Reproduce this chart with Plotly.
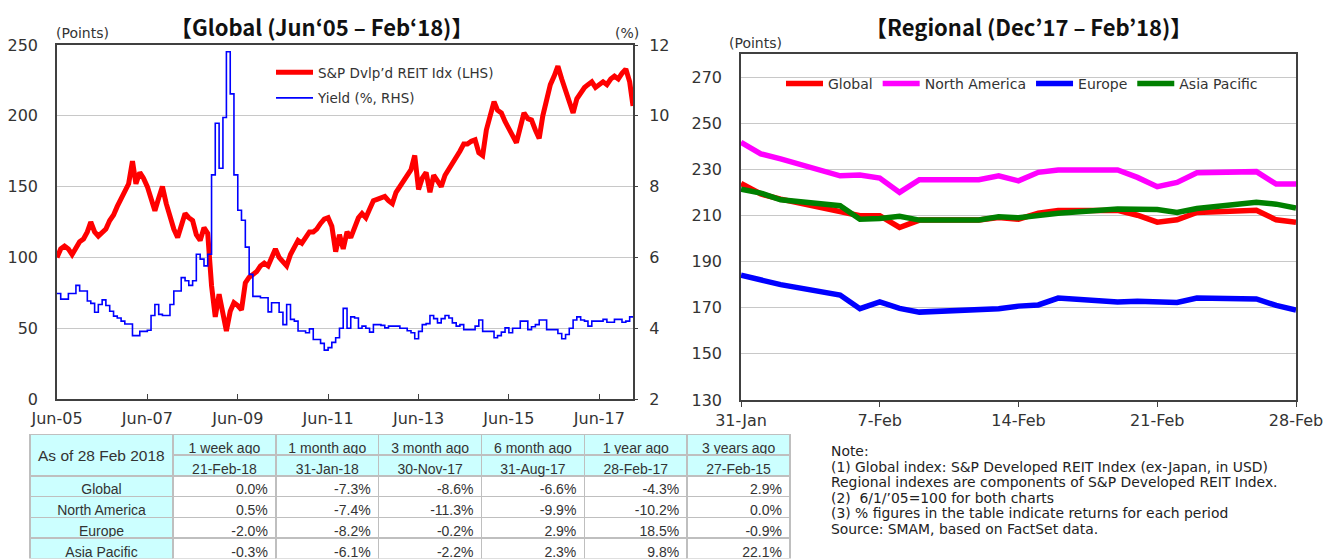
import plotly.graph_objects as go
import pandas as pd

# Page body has an 8px margin, so the figure is drawn 8px in from the window edge.
OFF = 8
W, H = 1337 - OFF, 559 - OFF


def fx(px):
    return (px - OFF) / W


def fy(py):
    return 1 - (py - OFF) / H


# ---------------- Left chart data (monthly, month-start, Jun-05 .. Feb-18) ----------------
reit_values = [
    100, 106, 108, 106, 102, 106, 111, 113, 118, 125, 118, 115,
    117, 120, 126, 130, 136, 142, 148, 152, 168, 152, 160, 156,
    150, 142, 133, 142, 150, 138, 128, 120, 114, 122, 131, 128,
    126, 116, 112, 121, 117, 80, 58, 74, 62, 48, 62, 68,
    66, 63, 82, 86, 88, 90, 94, 96, 94, 100, 106, 100,
    97, 94, 102, 107, 112, 110, 114, 118, 118, 120, 124, 127,
    128, 122, 104, 116, 106, 118, 114, 122, 128, 131, 128, 134,
    140, 141, 142, 143, 140, 138, 146, 150, 154, 158, 162, 172,
    148, 156, 160, 146, 158, 154, 150, 158, 162, 166, 170, 175,
    180, 180, 182, 183, 174, 172, 190, 200, 210, 204, 202, 196,
    190, 186, 181, 192, 202, 198, 197, 190, 184, 200, 210, 222,
    228, 235, 226, 218, 210, 202, 212, 216, 220, 222, 224, 220,
    222, 224, 222, 226, 228, 226, 230, 233, 224,
]
reit_end_date = "2018-02-28"
reit_end_value = 207

yield_values = [
    4.98, 4.82, 4.82, 4.98, 4.98, 5.21, 5.05, 5.05, 4.77, 4.70, 4.45, 4.67,
    4.80, 4.64, 4.48, 4.34, 4.29, 4.20, 4.12, 4.12, 3.79, 3.79, 3.91, 3.91,
    3.94, 4.36, 4.67, 4.39, 4.36, 4.36, 4.67, 5.05, 5.05, 5.43, 5.34, 5.21,
    5.34, 6.09, 5.95, 5.76, 6.09, 8.33, 9.79, 8.52, 9.95, 11.81, 10.62, 8.33,
    7.33, 7.05, 6.29, 5.52, 4.90, 4.90, 4.86, 4.86, 4.46, 4.72, 4.72, 4.45,
    4.10, 4.67, 4.25, 4.20, 3.92, 3.92, 3.87, 3.98, 3.68, 3.68, 3.57, 3.38,
    3.45, 3.60, 3.73, 4.00, 4.56, 4.00, 4.32, 4.29, 4.00, 4.06, 4.00, 3.89,
    4.10, 4.10, 4.08, 4.01, 4.06, 4.06, 4.06, 4.00, 4.00, 3.93, 3.87, 3.70,
    3.91, 4.10, 4.13, 4.36, 4.27, 4.15, 4.27, 4.36, 4.29, 4.15, 4.06, 4.10,
    3.96, 3.96, 3.96, 4.06, 4.23, 3.91, 3.91, 3.91, 3.73, 3.79, 3.89, 4.01,
    3.87, 4.00, 4.00, 4.20, 4.20, 3.96, 4.04, 4.10, 4.23, 4.23, 3.96, 3.96,
    3.96, 3.85, 3.70, 3.82, 4.00, 4.23, 4.32, 4.23, 4.20, 4.06, 4.20, 4.20,
    4.20, 4.25, 4.17, 4.17, 4.25, 4.25, 4.17, 4.20, 4.32,
]

left_tick_dates = ["2005-06-01", "2007-06-01", "2009-06-01", "2011-06-01",
                   "2013-06-01", "2015-06-01", "2017-06-01"]

# ---------------- Right chart data ----------------
reg_dates = ["2018-01-31", "2018-02-01", "2018-02-02", "2018-02-05", "2018-02-06",
             "2018-02-07", "2018-02-08", "2018-02-09", "2018-02-12", "2018-02-13",
             "2018-02-14", "2018-02-15", "2018-02-16", "2018-02-19", "2018-02-20",
             "2018-02-21", "2018-02-22", "2018-02-23", "2018-02-26", "2018-02-27",
             "2018-02-28"]
global_vals = [223.9, 219.3, 217.1, 211.6, 209.9, 209.9, 204.8, 208.0, 208.0, 209.1,
               208.4, 211.0, 212.2, 212.2, 210.1, 207.1, 208.1, 211.3, 212.3, 208.1, 207.1]
na_vals = [241.7, 236.7, 234.5, 227.2, 227.5, 226.2, 220.0, 225.5, 225.5, 227.2,
           225.0, 228.7, 229.7, 229.7, 226.5, 222.5, 224.3, 228.5, 229.0, 223.6, 223.6]
europe_vals = [184.1, 182.3, 180.0, 175.5, 169.6, 172.5, 169.7, 168.1, 169.6, 169.6,
               170.7, 171.2, 174.2, 172.5, 172.8, 172.3, 172.3, 174.2, 173.8, 171.0, 169.0]
ap_vals = [221.4, 219.7, 216.8, 214.2, 208.4, 208.7, 209.6, 208.0, 208.0, 209.4,
           209.0, 210.1, 211.0, 212.8, 212.9, 212.6, 211.3, 213.0, 215.7, 214.9, 213.2]
right_tick_dates = ["2018-01-31", "2018-02-07", "2018-02-14", "2018-02-21", "2018-02-28"]

# ---------------- Table data ----------------
periods = ["1 week ago", "1 month ago", "3 month ago", "6 month ago", "1 year ago", "3 years ago"]
base_dates = ["21-Feb-18", "31-Jan-18", "30-Nov-17", "31-Aug-17", "28-Feb-17", "27-Feb-15"]
regions = ["Global", "North America", "Europe", "Asia Pacific"]
ret_global = [0.0, -7.3, -8.6, -6.6, -4.3, 2.9]
ret_na = [0.5, -7.4, -11.3, -9.9, -10.2, 0.0]
ret_eu = [-2.0, -8.2, -0.2, 2.9, 18.5, -0.9]
ret_ap = [-0.3, -6.1, -2.2, 2.3, 9.8, 22.1]

note_lines = [
    "Note:",
    "(1) Global index: S&P Developed REIT Index (ex-Japan, in USD)",
    "Regional indexes are components of S&P Developed REIT Index.",
    "(2)  6/1/’05=100 for both charts",
    "(3) % figures in the table indicate returns for each period",
    "Source: SMAM, based on FactSet data.",
]

# ---------------- Styling ----------------
AX = "#404040"
GRID = "#C8C8C8"
TXT = "#333333"
CYAN = "#CCFFFF"
TBL_LINE = "#BFBFBF"
FONT = "DejaVu Sans"
TFONT = "Liberation Sans"
tickfont = dict(family=FONT, size=16, color=TXT)

reit_dates = list(pd.date_range("2005-06-01", periods=len(reit_values), freq="MS").strftime("%Y-%m-%d"))
reit_x = reit_dates + [reit_end_date]
reit_y = reit_values + [reit_end_value]
yield_x = list(pd.date_range("2005-06-01", periods=len(yield_values), freq="MS").strftime("%Y-%m-%d")) + [reit_end_date]
yield_y = yield_values + [yield_values[-1]]

fig = go.Figure()

fig.add_trace(go.Scatter(
    x=reit_x, y=reit_y, mode="lines", name="S&P Dvlp’d REIT Idx (LHS)",
    line=dict(color="#FF0000", width=5), xaxis="x", yaxis="y",
    legend="legend", legendgroup="a"))
fig.add_trace(go.Scatter(
    x=yield_x, y=yield_y, mode="lines", name="Yield (%, RHS)",
    line=dict(color="#0000FF", width=1.6, shape="hv"), xaxis="x", yaxis="y2",
    legend="legend", legendgroup="b"))

for nm, vals, col in [("Global", global_vals, "#FF0000"),
                      ("North America", na_vals, "#FF00FF"),
                      ("Europe", europe_vals, "#0000FF"),
                      ("Asia Pacific", ap_vals, "#008000")]:
    fig.add_trace(go.Scatter(
        x=reg_dates, y=vals, mode="lines", name=nm,
        line=dict(color=col, width=5.5), xaxis="x2", yaxis="y3", legend="legend2"))

# ---------------- Tables ----------------
row_h = 20.7
tbl_top = fy(434.5)
cellfont = dict(family=TFONT, size=14, color=TXT)

fig.add_trace(go.Table(
    domain=dict(x=[fx(30), fx(173)], y=[0, tbl_top]),
    columnwidth=[1],
    header=dict(values=[""], height=2 * row_h, fill_color=CYAN,
                line=dict(color=TBL_LINE, width=1.5), font=cellfont),
    cells=dict(values=[regions], height=row_h, fill_color=CYAN, align="center",
               line=dict(color=TBL_LINE, width=1.5), font=cellfont),
))

header_vals = [[periods[i], base_dates[i]] for i in range(len(periods))]
cols = [[f"{r[i]:.1f}%" for r in (ret_global, ret_na, ret_eu, ret_ap)] for i in range(len(periods))]

fig.add_trace(go.Table(
    domain=dict(x=[fx(173), fx(790)], y=[0, tbl_top]),
    columnwidth=[1] * len(periods),
    header=dict(values=header_vals, height=row_h, fill_color=CYAN, align="center",
                line=dict(color=TBL_LINE, width=1.5), font=cellfont),
    cells=dict(values=cols, height=row_h, fill_color="white", align="right",
               line=dict(color=TBL_LINE, width=1.5), font=cellfont),
))

# ---------------- Layout ----------------
fig.update_layout(
    width=W, height=H,
    margin=dict(l=0, r=0, t=0, b=0, autoexpand=False),
    paper_bgcolor="white", plot_bgcolor="white",
    font=dict(family=FONT, color=TXT),
    xaxis=dict(domain=[fx(57), fx(633)], anchor="y", type="date", automargin=False,
               range=["2005-06-01", "2018-02-28"], tickvals=left_tick_dates,
               tickformat="%b-%y", ticks="inside", ticklen=5, tickcolor=AX,
               ticklabelstandoff=4,
               showline=True, linecolor=AX, linewidth=1.5, mirror=True,
               showgrid=False, tickfont=tickfont),
    yaxis=dict(domain=[fy(399), fy(45)], anchor="x", range=[0, 250], dtick=50,
               automargin=False,
               showgrid=True, gridcolor=GRID, gridwidth=1, zeroline=False,
               showline=True, linecolor=AX, linewidth=1.5, mirror=True,
               ticks="", ticklabelstandoff=14, tickfont=tickfont),
    yaxis2=dict(overlaying="y", side="right", anchor="x", range=[2, 12], dtick=2,
                automargin=False,
                showgrid=False, zeroline=False, ticks="outside", ticklen=4,
                tickcolor=AX, ticklabelstandoff=8, tickfont=tickfont),
    xaxis2=dict(domain=[fx(741), fx(1296)], anchor="y3", type="date", automargin=False,
                range=["2018-01-31", "2018-02-28"], tickvals=right_tick_dates,
                tickformat="%-d-%b", ticks="outside", ticklen=5, tickcolor=AX,
                showline=True, linecolor=AX, linewidth=1.5, mirror=True,
                showgrid=False, tickfont=tickfont),
    yaxis3=dict(domain=[fy(400), fy(54)], anchor="x2", range=[130, 280],
                automargin=False,
                tickvals=list(range(130, 271, 20)), showgrid=True, gridcolor=GRID,
                zeroline=False, showline=True, linecolor=AX, linewidth=1.5, mirror=True,
                ticks="", ticklabelstandoff=14, tickfont=tickfont),
    legend=dict(x=fx(271), y=fy(57), xanchor="left", yanchor="top",
                bgcolor="rgba(0,0,0,0)", font=dict(family=FONT, size=13.5, color=TXT),
                itemwidth=37, tracegroupgap=5),
    legend2=dict(orientation="h", x=fx(781), y=fy(84), xanchor="left", yanchor="middle",
                 bgcolor="rgba(0,0,0,0)", font=dict(family=FONT, size=14, color=TXT),
                 itemwidth=37),
)

title_font = dict(family="Noto Sans CJK JP", size=22, color="#111111")
small = dict(family=FONT, size=14, color=TXT)
ann = [
    dict(text="<b>【Global (Jun‘05 – Feb‘18)】</b>", x=fx(321), y=1.0, yanchor="top",
         font=title_font),
    dict(text="<b>【Regional (Dec’17 – Feb’18)】</b>", x=fx(1028), y=1.0, yanchor="top",
         font=title_font),
    dict(text="(Points)", x=fx(82), y=fy(33), font=small),
    dict(text="(%)", x=fx(627), y=fy(33), font=small),
    dict(text="(Points)", x=fx(756), y=fy(43), font=small),
    dict(text="As of 28 Feb 2018", x=fx(101), y=fy(455.5),
         font=dict(family=TFONT, size=15.5, color=TXT)),
]
note_y0, note_dy = 451, 15.5
for i, line in enumerate(note_lines):
    ann.append(dict(text=line, x=fx(829), y=fy(note_y0 + i * note_dy), xanchor="left",
                    font=dict(family=FONT, size=13.9, color="#222222")))

for a in ann:
    a.setdefault("xanchor", "center")
    a.setdefault("yanchor", "middle")
    fig.add_annotation(xref="paper", yref="paper", showarrow=False, **a)

fig.write_html("out.html")
